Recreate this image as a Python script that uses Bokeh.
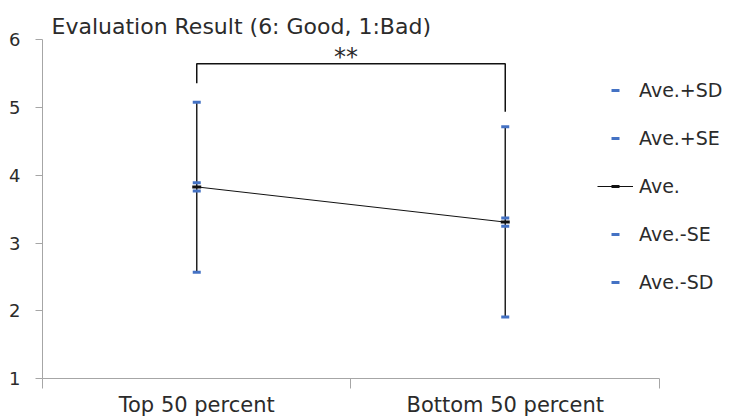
from bokeh.plotting import figure
from bokeh.models import Range1d, FixedTicker, Legend, LegendItem, Label
from bokeh.core.properties import value
from bokeh.embed import file_html
from bokeh.resources import INLINE

# ---- data ----
categories = ["Top 50 percent", "Bottom 50 percent"]
cat_pos = [0.5, 1.5]
ave = [3.83, 3.31]
ave_plus_sd = [5.08, 4.72]
ave_minus_sd = [2.57, 1.91]
ave_plus_se = [3.89, 3.37]
ave_minus_se = [3.77, 3.25]
y_ticks = [1, 2, 3, 4, 5, 6]
bracket_y = [5.36, 5.65, 5.65, 4.94]
signif = "**"
title_text = "Evaluation Result (6: Good, 1:Bad)"

FONT = "DejaVu Sans"
TXT = "#2b2b2b"
AX = "#a6a6a6"
BLUE = "#4472C4"

p = figure(width=736, height=420, output_backend="svg", toolbar_location=None,
           x_range=Range1d(0, 2.2496), y_range=Range1d(1, 6.583),
           min_border_left=42, min_border_right=0, min_border_top=0, min_border_bottom=42)
p.outline_line_color = None
p.xgrid.visible = False
p.ygrid.visible = False
p.background_fill_color = "white"

# axes
xa = p.xaxis[0]
xa.bounds = (0, 2)
xa.ticker = FixedTicker(ticks=cat_pos, minor_ticks=[0, 1, 2])
xa.major_label_overrides = {cat_pos[i]: categories[i] for i in range(len(categories))}
xa.major_tick_line_color = None
xa.major_tick_out = 10
xa.major_tick_in = 0
xa.minor_tick_out = 10
xa.minor_tick_in = 0
xa.minor_tick_line_color = AX
xa.axis_line_color = AX
xa.major_label_standoff = 4
xa.major_label_text_font = FONT
xa.major_label_text_font_size = "21px"
xa.major_label_text_color = TXT

ya = p.yaxis[0]
ya.bounds = (1, 6)
ya.ticker = FixedTicker(ticks=y_ticks)
ya.minor_tick_line_color = None
ya.major_tick_out = 7
ya.major_tick_in = 0
ya.major_tick_line_color = AX
ya.axis_line_color = AX
ya.major_label_standoff = 15
ya.major_label_text_font = FONT
ya.major_label_text_font_size = "18px"
ya.major_label_text_color = TXT

# high-low lines
p.segment(x0=cat_pos, y0=ave_minus_sd, x1=cat_pos, y1=ave_plus_sd,
          line_color="#222222", line_width=1.5)

r_mean_line = p.line(cat_pos, ave, line_color="#111111", line_width=1)
r_mean = p.scatter(cat_pos, ave, marker="dash", size=9, line_width=3, line_color="#111111")
r_psd = p.scatter(cat_pos, ave_plus_sd, marker="dash", size=8, line_width=3, line_color=BLUE)
r_pse = p.scatter(cat_pos, ave_plus_se, marker="dash", size=8, line_width=3, line_color=BLUE)
r_mse = p.scatter(cat_pos, ave_minus_se, marker="dash", size=8, line_width=3, line_color=BLUE)
r_msd = p.scatter(cat_pos, ave_minus_sd, marker="dash", size=8, line_width=3, line_color=BLUE)

# significance bracket
bx = [cat_pos[0], cat_pos[0], cat_pos[1], cat_pos[1]]
p.line(bx, bracket_y, line_color="#111111", line_width=1.5)
p.text(x=[(cat_pos[0] + cat_pos[1]) / 2], y=[bracket_y[1]], text=[signif],
       text_font=value(FONT), text_font_size="24px", text_color=TXT,
       text_align="center", text_baseline="alphabetic", y_offset=-7, x_offset=-5)

legend = Legend(items=[
    LegendItem(label="Ave.+SD", renderers=[r_psd]),
    LegendItem(label="Ave.+SE", renderers=[r_pse]),
    LegendItem(label="Ave.", renderers=[r_mean_line, r_mean]),
    LegendItem(label="Ave.-SE", renderers=[r_mse]),
    LegendItem(label="Ave.-SD", renderers=[r_msd]),
], location=(555, 85))
legend.glyph_width = 36
legend.glyph_height = 20
legend.label_height = 20
legend.spacing = 26
legend.padding = 0
legend.margin = 0
legend.label_standoff = 6
legend.border_line_color = None
legend.background_fill_alpha = 0
legend.label_text_font = FONT
legend.label_text_font_size = "19px"
legend.label_text_color = TXT
p.add_layout(legend, "center")

p.add_layout(Label(x=9, y=352, x_units="screen", y_units="screen", text=title_text,
                   text_font=FONT, text_font_size="22px", text_color=TXT,
                   text_baseline="alphabetic"))

open("out.html", "w").write(file_html(p, INLINE))
